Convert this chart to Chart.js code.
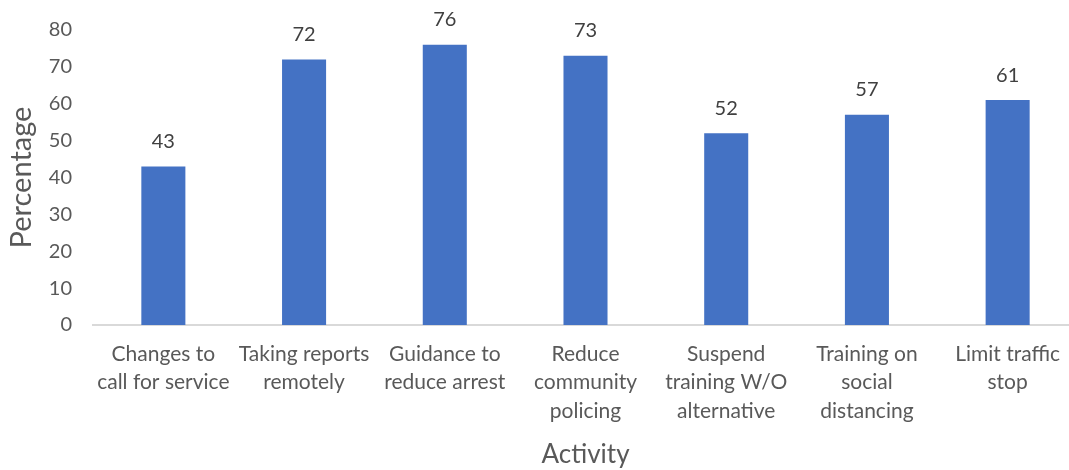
<!DOCTYPE html>
<html>
<head>
<meta charset="utf-8">
<script src="https://cdn.jsdelivr.net/npm/chart.js@4/dist/chart.umd.min.js"></script>
<style>
  html, body { margin: 0; padding: 0; background: #fff; overflow: hidden; }
  #wrap { width: 1078px; height: 470px; position: relative; }
</style>
</head>
<body>
<div id="wrap"><canvas id="chart"></canvas></div>
<script>
const categories = [
  ["Changes to", "call for service"],
  ["Taking reports", "remotely"],
  ["Guidance to", "reduce arrest"],
  ["Reduce", "community", "policing"],
  ["Suspend", "training W/O", "alternative"],
  ["Training on", "social", "distancing"],
  ["Limit traffic", "stop"]
];
const percentages = [43, 72, 76, 73, 52, 57, 61];

const textGray = "#595959";
const fontFamily = "Lato, 'Noto Sans', sans-serif";

// draws the value above each bar
const valueLabels = {
  id: "valueLabels",
  afterDatasetsDraw(chart) {
    const ctx = chart.ctx;
    const meta = chart.getDatasetMeta(0);
    ctx.save();
    ctx.font = `20px ${fontFamily}`;
    ctx.fillStyle = "#404040";
    ctx.textAlign = "center";
    ctx.textBaseline = "middle";
    meta.data.forEach((bar, i) => {
      ctx.fillText(String(percentages[i]), bar.x, bar.y - 25);
    });
    ctx.restore();
  }
};

new Chart(document.getElementById("chart"), {
  type: "bar",
  data: {
    labels: categories,
    datasets: [{
      label: "Percentage",
      data: percentages,
      backgroundColor: "#4472C4",
      categoryPercentage: 1,
      barPercentage: 0.313
    }]
  },
  options: {
    responsive: true,
    maintainAspectRatio: false,
    animation: false,
    layout: { padding: { top: 30, left: 0, right: 0, bottom: 0 } },
    plugins: { legend: { display: false }, tooltip: { enabled: false } },
    scales: {
      x: {
        grid: { display: false, drawTicks: false },
        border: { display: true, color: "#d9d9d9", width: 2 },
        ticks: { color: textGray, font: { family: fontFamily, size: 21, lineHeight: 1.35 }, padding: 15, maxRotation: 0, autoSkip: false },
        title: { display: true, text: "Activity", color: textGray, font: { family: fontFamily, size: 26 }, padding: 0 },
        afterFit: (scale) => { scale.height = 145; }
      },
      y: {
        min: 0,
        max: 80,
        grid: { display: false, drawTicks: false },
        border: { display: false },
        ticks: { stepSize: 10, color: textGray, font: { family: fontFamily, size: 20 }, padding: 21 },
        title: { display: true, text: "Percentage", color: textGray, font: { family: fontFamily, size: 29 }, padding: 4 },
        afterFit: (scale) => {
          scale.width = 93;
          scale.paddingTop = 0;
          scale.paddingBottom = 0;
        }
      }
    }
  },
  plugins: [valueLabels]
});
</script>
</body>
</html>
